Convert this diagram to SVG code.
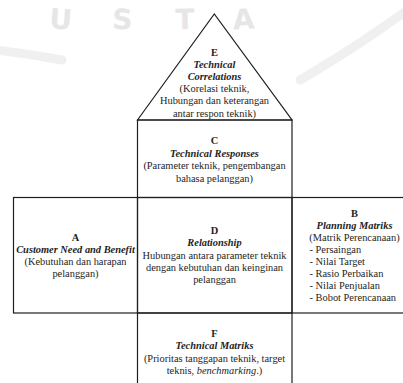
<svg xmlns="http://www.w3.org/2000/svg" width="403" height="383" viewBox="0 0 403 383">
<style>
.bg{fill:#ffffff}
.wm{font-family:"DejaVu Sans","Liberation Sans",sans-serif;font-weight:bold;font-size:28px;fill:#e6e6e6;text-anchor:middle}
.wmband{fill:none;stroke:#f0f0f0;stroke-width:9;stroke-linecap:round}
.box{fill:none;stroke:#1e1e1e;stroke-width:1.2}
.t{font-family:"Liberation Serif","Times New Roman",serif;font-size:10.4px;fill:#1e1e1e;text-anchor:middle}
.l{text-anchor:start}
.b{font-weight:bold}
.bi{font-weight:bold;font-style:italic}
.i{font-style:italic}
</style>
<rect class="bg" x="0" y="0" width="403" height="383"/>
<g id="watermark">
<path class="wmband" d="M -5,50 Q 30,54 62,60"/>
<path class="wmband" d="M 300,80 Q 360,45 410,8"/>
<text class="wm" transform="translate(60,29) rotate(4)">U</text>
<text class="wm" transform="translate(122,29) rotate(2)">S</text>
<text class="wm" transform="translate(185,29) rotate(-1)">T</text>
<text class="wm" transform="translate(244,29) rotate(-3)">A</text>
</g>
<g id="node-E">
<polygon class="box" points="137.5,120 214.3,14 292,120"/>
<text class="t b" x="214.5" y="55.5">E</text>
<text class="t bi" x="214.5" y="67.7">Technical</text>
<text class="t bi" x="214.5" y="79.9">Correlations</text>
<text class="t" x="214.5" y="92.1">(Korelasi teknik,</text>
<text class="t" x="214.5" y="104.3">Hubungan dan keterangan</text>
<text class="t" x="214.5" y="116.5">antar respon teknik)</text>
</g>
<g id="node-C">
<rect class="box" x="137.5" y="120" width="154.5" height="77.5"/>
<text class="t b" x="214.5" y="144">C</text>
<text class="t bi" x="214.5" y="156.5">Technical Responses</text>
<text class="t" x="214.5" y="169">(Parameter teknik, pengembangan</text>
<text class="t" x="214.5" y="181.5">bahasa pelanggan)</text>
</g>
<g id="node-A">
<rect class="box" x="13.5" y="197.5" width="124" height="115.5"/>
<text class="t b" x="75.5" y="241">A</text>
<text class="t bi" x="75.5" y="253">Customer Need and Benefit</text>
<text class="t" x="75.5" y="265">(Kebutuhan dan harapan</text>
<text class="t" x="75.5" y="277">pelanggan)</text>
</g>
<g id="node-D">
<rect class="box" x="137.5" y="197.5" width="154.5" height="115.5"/>
<text class="t b" x="214.5" y="234">D</text>
<text class="t bi" x="214.5" y="246.3">Relationship</text>
<text class="t" x="214.5" y="258.5">Hubungan antara parameter teknik</text>
<text class="t" x="214.5" y="270.7">dengan kebutuhan dan keinginan</text>
<text class="t" x="214.5" y="283">pelanggan</text>
</g>
<g id="node-B">
<rect class="box" x="292" y="197.5" width="130" height="115.5"/>
<text class="t b" x="354.5" y="216.5">B</text>
<text class="t bi" x="354.5" y="228.5">Planning Matriks</text>
<text class="t" x="354.5" y="241">(Matrik Perencanaan)</text>
<text class="t l" x="309.5" y="253">- Persaingan</text>
<text class="t l" x="309.5" y="265">- Nilai Target</text>
<text class="t l" x="309.5" y="277">- Rasio Perbaikan</text>
<text class="t l" x="309.5" y="289">- Nilai Penjualan</text>
<text class="t l" x="309.5" y="301">- Bobot Perencanaan</text>
</g>
<g id="node-F">
<rect class="box" x="137.5" y="313" width="154.5" height="80"/>
<text class="t b" x="214.5" y="336.5">F</text>
<text class="t bi" x="214.5" y="349">Technical Matriks</text>
<text class="t" x="214.5" y="361.5">(Prioritas tanggapan teknik, target</text>
<text class="t" x="214.5" y="374">teknis, <tspan class="i">benchmarking</tspan>.)</text>
</g>
<g id="connectors"></g>
</svg>
